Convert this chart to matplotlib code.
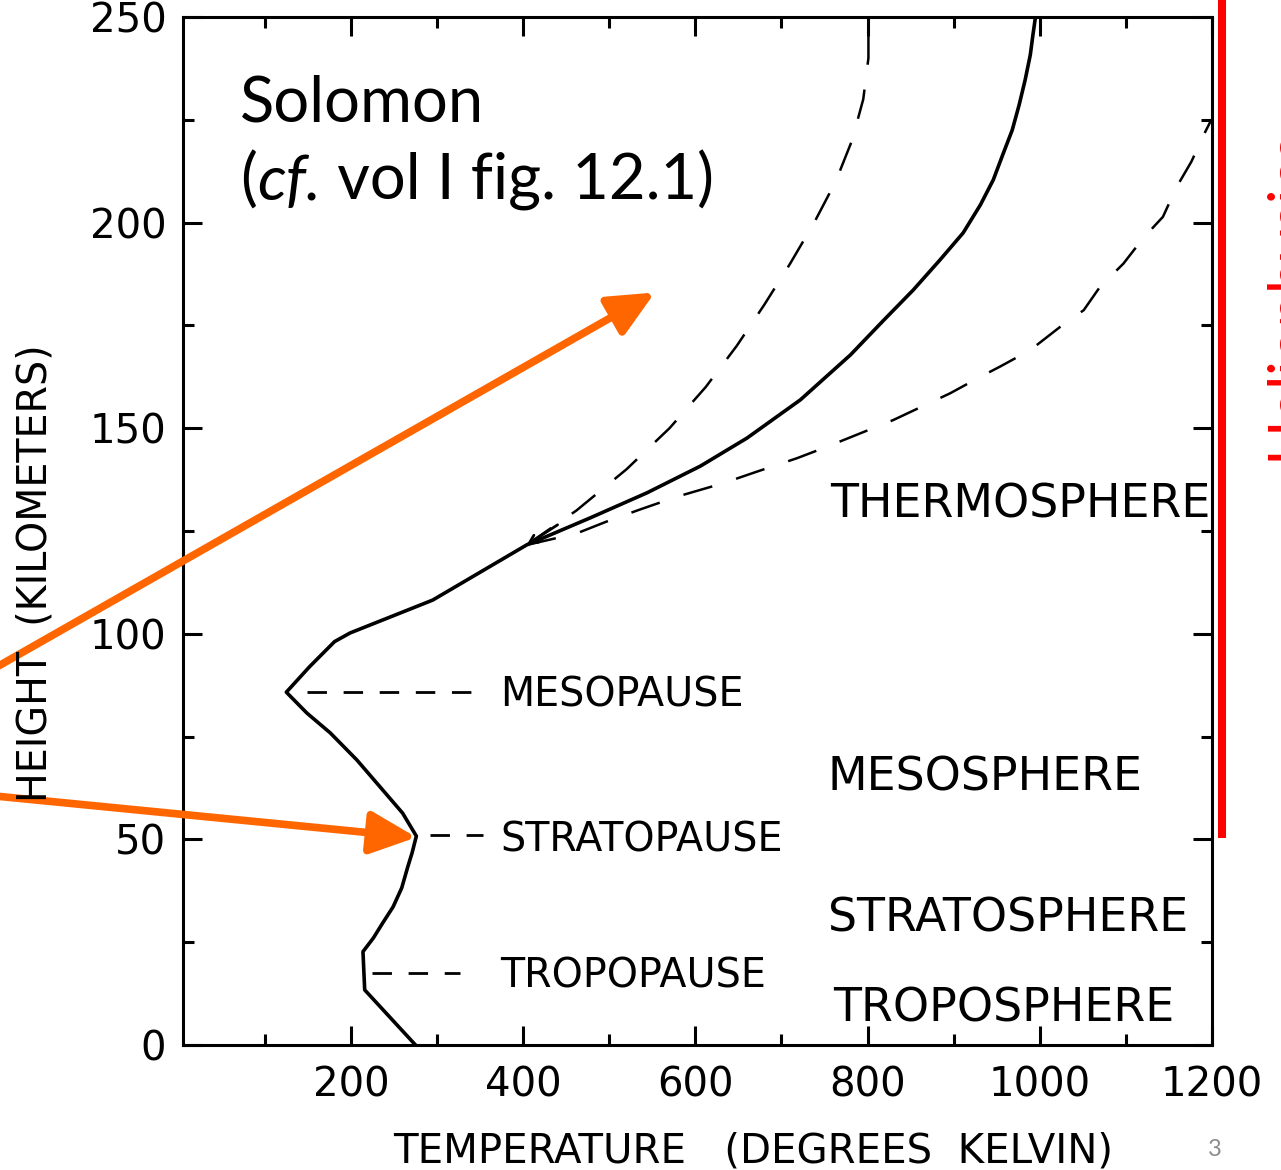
import matplotlib
matplotlib.use("Agg")
import matplotlib.pyplot as plt
from matplotlib.lines import Line2D

plt.rcParams['font.family'] = ['DejaVu Sans']

# mean temperature profile (K) vs height (km)
main_h = [0, 13.4, 22.7, 26.0, 29.7, 33.6, 38.2, 43.3, 46.7, 50.8, 56.4, 62, 69.3, 75.9,
          80.7, 85.8, 92, 98.1, 100.2, 108.2, 121.6, 128.2, 134.3, 140.8, 147.6, 156.9,
          167.8, 176.1, 183.6, 190.9, 197.5, 204.3, 210.4, 216.5, 222.5, 228.6, 234.7,
          240.8, 245.6, 250]
main_t = [275, 216, 214, 226, 237, 249, 259, 266, 271, 276, 260, 237, 207, 176,
          149, 125, 152, 181, 199, 295, 404, 478, 544, 606, 660, 722,
          780, 818, 853, 884, 911, 931, 946, 957, 968, 976, 983,
          989, 992, 995]

# solar minimum (cooler) thermosphere, dashed
cool_h = [121.6, 130, 140, 150, 160, 170, 180, 190, 200, 210, 220, 230, 240, 250]
cool_t = [404, 462, 520, 570, 612, 648, 680, 710, 738, 763, 782, 795, 801, 801]

# solar maximum (hotter) thermosphere, dashed
hot_h = [121.6, 124.4, 127.3, 130.1, 133.3, 136.6, 139.4, 142.7, 145.5, 152, 158.5,
         162.5, 165, 169, 174.7, 178.7, 184.4, 190, 196.2, 201.4, 208.7, 214.8, 222, 224.5]
hot_t = [404, 462, 497, 534, 578, 632, 671, 718, 753, 830, 896,
         931, 954, 989, 1024, 1051, 1070, 1097, 1120, 1143, 1159, 1176, 1192, 1198]

# the "pause" levels: (name, height of dashes, dash start, dash end, label height)
pauses = [("MESOPAUSE", 85.8, 149, 344, 82.2),
          ("STRATOPAUSE", 51.1, 292, 353, 47.0),
          ("TROPOPAUSE", 17.6, 224, 327, 13.9)]
layers = [("THERMOSPHERE", 756, 128.2),
          ("MESOSPHERE", 754, 62.0),
          ("STRATOSPHERE", 754, 27.5),
          ("TROPOSPHERE", 760, 5.6)]

xticks = [200, 400, 600, 800, 1000, 1200]
xminor = [100, 300, 500, 700, 900, 1100]
yticks = [0, 50, 100, 150, 200, 250]
yminor = [25, 75, 125, 175, 225]

W, H = 1281, 1170
fig = plt.figure(figsize=(W / 100, H / 100), dpi=100)
ax = fig.add_axes([183 / W, 1 - 1045 / H, (1212 - 183) / W, (1045 - 17) / H])

ax.plot(main_t, main_h, color='black', lw=2.6, solid_joinstyle='round')
ax.plot(cool_t, cool_h, color='black', lw=1.8, ls=(0, (12, 10)))
ax.plot(hot_t, hot_h, color='black', lw=1.8, ls=(0, (12, 10)))

# little arrowhead where the curves split
ax.annotate("", xy=(404, 121.6), xytext=(440, 126.5),
            arrowprops=dict(arrowstyle='->,head_length=0.6,head_width=0.3',
                            color='black', lw=2, shrinkA=0, shrinkB=0),
            annotation_clip=False)

for name, h, t0, t1, hl in pauses:
    ax.plot([t0, t1], [h, h], color='black', lw=2, ls=(0, (7, 6)))
    ax.text(373, hl, name, fontsize=28.5, va='baseline', ha='left')

for name, t, h in layers:
    ax.text(t, h, name, fontsize=33, va='baseline', ha='left')

ax.set_xlim(5, 1200)
ax.set_ylim(0, 250)
ax.set_xticks(xticks)
ax.set_xticks(xminor, minor=True)
ax.set_yticks(yticks)
ax.set_yticks(yminor, minor=True)
ax.tick_params(which='both', direction='in', top=True, right=True, width=2.2,
               labelsize=29)
ax.tick_params(which='major', length=14)
ax.tick_params(which='minor', length=8)
ax.tick_params(axis='x', pad=15)
ax.tick_params(axis='y', pad=12)
for s in ax.spines.values():
    s.set_linewidth(2.2)

fig.text(753 / W, 1 - 1152 / H, "TEMPERATURE   (DEGREES  KELVIN)", fontsize=29,
         ha='center', va='center')
fig.text(36 / W, 1 - 573 / H, "HEIGHT  (KILOMETERS)", fontsize=28.5, rotation=90,
         ha='center', va='center')

# slide annotations
fig.text(240 / W, 1 - 122 / H, "Solomon", fontsize=45.5, family='Lato', va='baseline')
t1 = fig.text(240 / W, 1 - 200 / H, "(", fontsize=45.5, family='Lato', va='baseline')
t2 = ax.annotate("cf.", xy=(1, 0), xycoords=t1, fontsize=45.5, family='Lato',
                 style='italic', va='bottom', ha='left', annotation_clip=False)
ax.annotate(" vol I fig. 12.1)", xy=(1, 0), xycoords=t2, fontsize=45.5, family='Lato',
            va='bottom', ha='left', annotation_clip=False)

orange = '#ff6600'
arrow_style = '-|>,head_length=1.4,head_width=0.65'
ax.annotate("", xy=(553, 183), xycoords='data', xytext=(-5, H - 668),
            textcoords='figure pixels',
            arrowprops=dict(arrowstyle=arrow_style, mutation_scale=20, color=orange,
                            lw=5.5, shrinkA=0, shrinkB=0),
            zorder=10, annotation_clip=False)
ax.annotate("", xy=(276, 50.5), xycoords='data', xytext=(-5, H - 796),
            textcoords='figure pixels',
            arrowprops=dict(arrowstyle=arrow_style, mutation_scale=20, color=orange,
                            lw=5.5, shrinkA=0, shrinkB=0),
            zorder=10, annotation_clip=False)

fig.add_artist(Line2D([1222 / W, 1222 / W], [1, 1 - 838 / H], transform=fig.transFigure,
                      color='red', lw=5.8, solid_capstyle='butt'))
fig.text(1262 / W, 1 - 460 / H, "Heliophysics", color='red', fontsize=43,
         family='Lato', rotation=90, ha='left', va='bottom')
fig.text(1215 / W, 1 - 1150 / H, "3", color='#8c8c8c', fontsize=17, family='Lato',
         ha='center', va='center')

fig.savefig("out.png", dpi=100)
